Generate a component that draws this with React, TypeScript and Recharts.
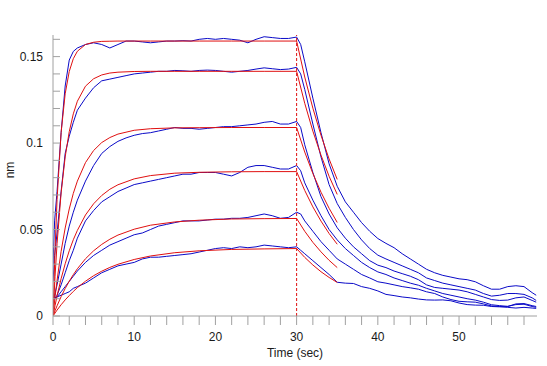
import { LineChart, Line, XAxis, YAxis, ReferenceLine } from 'recharts';

// time points of the measured traces (sec)
const RAW_T = [
  0, 0.2, 0.5, 1, 1.5, 2, 2.5, 3,
  4, 5, 6, 7, 8, 9, 10, 11, 12, 13, 14, 15, 16, 17, 18, 19, 20, 21, 22, 23, 24, 25, 26, 27, 28, 29, 30,
  30.5,
  31, 32, 33, 34, 35, 36, 37, 38, 39, 40, 41, 42, 43, 44, 45, 46, 47, 48, 49, 50, 51, 52, 53, 54, 55, 56, 57, 58, 59,
  59.5,
];

// measured traces (nm), highest concentration first
const RAW1 = [
  0.03, 0.055, 0.072, 0.106, 0.133, 0.148, 0.153, 0.155,
  0.157, 0.158, 0.157, 0.155, 0.157, 0.159, 0.159, 0.1585, 0.158, 0.1585, 0.159, 0.159, 0.1592, 0.159, 0.16, 0.1605, 0.16, 0.1605, 0.16, 0.1595, 0.158, 0.16, 0.1615, 0.161, 0.1605, 0.1605, 0.1613,
  0.157,
  0.147, 0.126, 0.106, 0.088, 0.075, 0.066, 0.06, 0.054, 0.049, 0.0448, 0.042, 0.0395, 0.036, 0.033, 0.03, 0.027, 0.025, 0.0235, 0.0225, 0.0215, 0.021, 0.0198, 0.0175, 0.0155, 0.0155, 0.017, 0.0175, 0.017, 0.0135,
  0.012,
];
const RAW2 = [
  0.02, 0.035, 0.048, 0.072, 0.094, 0.104, 0.112, 0.119,
  0.126, 0.132, 0.136, 0.137, 0.138, 0.139, 0.14, 0.1405, 0.141, 0.1415, 0.1415, 0.142, 0.1418, 0.1415, 0.142, 0.1422, 0.142, 0.1415, 0.141, 0.1415, 0.142, 0.1428, 0.1435, 0.143, 0.1425, 0.1428, 0.1438,
  0.14,
  0.131, 0.111, 0.092, 0.076, 0.065, 0.057, 0.05, 0.044, 0.039, 0.0352, 0.033, 0.031, 0.029, 0.027, 0.025, 0.022, 0.0205, 0.019, 0.018, 0.017, 0.016, 0.015, 0.013, 0.0115, 0.012, 0.013, 0.013, 0.0125, 0.0105,
  0.009,
];
const RAW3 = [
  0.008, 0.012, 0.018, 0.03, 0.042, 0.052, 0.06, 0.067,
  0.078, 0.087, 0.094, 0.098, 0.101, 0.103, 0.1045, 0.1055, 0.106, 0.107, 0.108, 0.109, 0.1085, 0.1085, 0.108, 0.1085, 0.109, 0.1095, 0.1095, 0.11, 0.1105, 0.111, 0.112, 0.1125, 0.111, 0.111, 0.1125,
  0.109,
  0.099, 0.083, 0.069, 0.059, 0.051, 0.045, 0.04, 0.036, 0.032, 0.0294, 0.028, 0.026, 0.0245, 0.023, 0.021, 0.018, 0.0165, 0.016, 0.0155, 0.015, 0.014, 0.0125, 0.011, 0.0095, 0.009, 0.0092, 0.0105, 0.011, 0.009,
  0.008,
];
const RAW4 = [
  0.01, 0.01, 0.012, 0.018, 0.025, 0.032, 0.038, 0.045,
  0.055, 0.061, 0.066, 0.069, 0.072, 0.074, 0.076, 0.077, 0.078, 0.079, 0.08, 0.081, 0.082, 0.082, 0.083, 0.083, 0.083, 0.082, 0.081, 0.083, 0.086, 0.087, 0.087, 0.086, 0.085, 0.085, 0.087,
  0.084,
  0.077, 0.067, 0.058, 0.05, 0.044, 0.039, 0.035, 0.031, 0.028, 0.0255, 0.024, 0.022, 0.0205, 0.019, 0.0178, 0.016, 0.0145, 0.013, 0.012, 0.011, 0.01, 0.0092, 0.008, 0.0065, 0.006, 0.0055, 0.007, 0.0072, 0.006,
  0.0055,
];
const RAW5 = [
  0.01, 0.01, 0.011, 0.014, 0.017, 0.02, 0.023, 0.026,
  0.031, 0.035, 0.038, 0.041, 0.043, 0.045, 0.047, 0.048, 0.05, 0.052, 0.053, 0.054, 0.055, 0.055, 0.055, 0.0555, 0.056, 0.056, 0.0565, 0.0565, 0.057, 0.058, 0.059, 0.058, 0.0565, 0.057, 0.06,
  0.059,
  0.055, 0.049, 0.043, 0.038, 0.033, 0.03, 0.027, 0.024, 0.022, 0.0198, 0.019, 0.018, 0.017, 0.0163, 0.0155, 0.014, 0.013, 0.011, 0.0095, 0.0085, 0.0082, 0.008, 0.007, 0.0058, 0.0055, 0.0056, 0.0066, 0.0068, 0.0055,
  0.005,
];
const RAW6 = [
  0.01, 0.0105, 0.011, 0.012, 0.013, 0.014, 0.016, 0.017,
  0.019, 0.022, 0.025, 0.027, 0.029, 0.03, 0.031, 0.033, 0.034, 0.034, 0.0345, 0.035, 0.0355, 0.036, 0.037, 0.038, 0.039, 0.0395, 0.039, 0.04, 0.0395, 0.04, 0.041, 0.0405, 0.04, 0.0395, 0.04,
  0.038,
  0.036, 0.032, 0.028, 0.024, 0.0195, 0.019, 0.0188, 0.017, 0.016, 0.0145, 0.0125, 0.0118, 0.011, 0.0105, 0.0098, 0.0093, 0.0092, 0.0093, 0.0088, 0.0075, 0.0066, 0.0063, 0.0062, 0.0055, 0.0053, 0.005, 0.0046, 0.005, 0.0046,
  0.0044,
];

// time points of the fitted curves (sec)
const FIT_T = [0, 0.25, 0.5, 1, 1.5, 2, 2.5, 3, 4, 5, 6, 7, 8, 10, 12, 15, 18, 22, 26, 30, 31, 32, 33, 34, 35];

const FIT1 = [0, 0.0382, 0.0673, 0.1061, 0.1285, 0.1414, 0.1488, 0.1531, 0.157, 0.1583, 0.1588, 0.1589, 0.159, 0.159, 0.159, 0.159, 0.159, 0.159, 0.159, 0.159, 0.1382, 0.1202, 0.1045, 0.0908, 0.079];
const FIT2 = [0, 0.0227, 0.0418, 0.0712, 0.092, 0.1066, 0.1169, 0.1242, 0.1329, 0.1372, 0.1394, 0.1405, 0.141, 0.1414, 0.1415, 0.1415, 0.1415, 0.1415, 0.1415, 0.1415, 0.123, 0.1069, 0.093, 0.0808, 0.0703];
const FIT3 = [0, 0.0109, 0.0206, 0.0374, 0.0509, 0.0619, 0.0709, 0.078, 0.0887, 0.0957, 0.1003, 0.1032, 0.1052, 0.1074, 0.1083, 0.1088, 0.1089, 0.109, 0.109, 0.109, 0.0948, 0.0824, 0.0716, 0.0623, 0.0541];
const FIT4 = [0, 0.006, 0.0116, 0.0216, 0.0302, 0.0377, 0.0441, 0.0495, 0.0584, 0.0649, 0.0697, 0.0733, 0.0759, 0.0793, 0.0812, 0.0826, 0.0831, 0.0834, 0.0835, 0.0835, 0.0726, 0.0631, 0.0549, 0.0477, 0.0415];
const FIT5 = [0, 0.003, 0.0059, 0.0112, 0.0159, 0.0201, 0.0239, 0.0273, 0.0331, 0.0377, 0.0414, 0.0444, 0.0468, 0.0502, 0.0525, 0.0544, 0.0554, 0.0561, 0.0563, 0.0564, 0.049, 0.0426, 0.0371, 0.0322, 0.028];
const FIT6 = [0, 0.0017, 0.0034, 0.0065, 0.0093, 0.0118, 0.0142, 0.0164, 0.0201, 0.0233, 0.0259, 0.0281, 0.0299, 0.0327, 0.0347, 0.0366, 0.0377, 0.0385, 0.0388, 0.039, 0.0339, 0.0295, 0.0256, 0.0223, 0.0194];

const X_TICKS = [0, 2, 4, 6, 8, 10, 12, 14, 16, 18, 20, 22, 24, 26, 28, 30, 32, 34, 36, 38, 40, 42, 44, 46, 48, 50, 52, 54, 56, 58];
const Y_TICKS = [0, 0.01, 0.02, 0.03, 0.04, 0.05, 0.06, 0.07, 0.08, 0.09, 0.1, 0.11, 0.12, 0.13, 0.14, 0.15, 0.16];

const ASSOC_END = 30;

const AXIS = '#a0a0a0';
const BLUE = '#0a0ac8';
const RED = '#e01010';
const TEXT = '#1a1a1a';

const toPoints = (ts: number[], vs: number[]) => ts.map((t, i) => ({ t, v: vs[i] }));

const rawSeries = [RAW1, RAW2, RAW3, RAW4, RAW5, RAW6].map((vs) => toPoints(RAW_T, vs));
const fitSeries = [FIT1, FIT2, FIT3, FIT4, FIT5, FIT6].map((vs) => toPoints(FIT_T, vs));

const XTick = ({ x, y, payload }: any) => {
  const v = payload.value;
  return (
    <g>
      <line x1={x} y1={y} x2={x} y2={y + 9} stroke={AXIS} />
      {v % 10 === 0 && (
        <text x={x} y={y + 25} textAnchor="middle" fill={TEXT} fontSize={12}>
          {v}
        </text>
      )}
    </g>
  );
};

const YTick = ({ x, y, payload }: any) => {
  const v = payload.value;
  const major = Math.abs(v * 20 - Math.round(v * 20)) < 1e-6;
  return (
    <g>
      <line x1={x} y1={y} x2={x + 7} y2={y} stroke={AXIS} />
      {major && (
        <text x={x - 10} y={y + 4} textAnchor="end" fill={TEXT} fontSize={12}>
          {v === 0 ? '0' : String(v)}
        </text>
      )}
    </g>
  );
};

export default function App() {
  return (
    <div style={{ position: 'absolute', left: 0, top: 0 }}>
      <LineChart
        width={547}
        height={366}
        margin={{ top: 35, right: 10, bottom: 0, left: 0 }}
        style={{ fontFamily: '"Liberation Sans", Arial, sans-serif', background: '#fff' }}
      >
        <XAxis
          dataKey="t"
          type="number"
          domain={[0, 59.6]}
          allowDataOverflow
          ticks={X_TICKS}
          interval={0}
          height={50}
          tickSize={0}
          tickMargin={0}
          tickLine={false}
          axisLine={{ stroke: AXIS }}
          tick={<XTick />}
          label={{
            content: () => (
              <text x={295} y={357} textAnchor="middle" fill={TEXT} fontSize={12}>
                Time (sec)
              </text>
            ),
          }}
        />
        <XAxis
          xAxisId="top"
          orientation="top"
          type="number"
          domain={[0, 59.6]}
          height={0}
          tick={false}
          tickLine={false}
          axisLine={{ stroke: AXIS }}
        />
        <YAxis
          type="number"
          domain={[0, 0.1625]}
          allowDataOverflow
          ticks={Y_TICKS}
          interval={0}
          width={53}
          tickSize={0}
          tickMargin={0}
          tickLine={false}
          axisLine={{ stroke: AXIS }}
          tick={<YTick />}
          label={{
            content: () => (
              <text x={14} y={170} textAnchor="middle" fill={TEXT} fontSize={12} transform="rotate(-90 14 170)">
                nm
              </text>
            ),
          }}
        />
        <YAxis
          yAxisId="right"
          orientation="right"
          type="number"
          domain={[0, 0.1625]}
          width={0}
          tick={false}
          tickLine={false}
          axisLine={{ stroke: AXIS }}
        />
        {rawSeries.map((pts, i) => (
          <Line
            key={`raw${i}`}
            data={pts}
            dataKey="v"
            type="linear"
            stroke={BLUE}
            strokeWidth={1}
            dot={false}
            activeDot={false}
            isAnimationActive={false}
          />
        ))}
        {fitSeries.map((pts, i) => (
          <Line
            key={`fit${i}`}
            data={pts}
            dataKey="v"
            type="linear"
            stroke={RED}
            strokeWidth={1}
            dot={false}
            activeDot={false}
            isAnimationActive={false}
          />
        ))}
        <ReferenceLine x={ASSOC_END} stroke={RED} strokeDasharray="3 2" />
      </LineChart>
    </div>
  );
}
